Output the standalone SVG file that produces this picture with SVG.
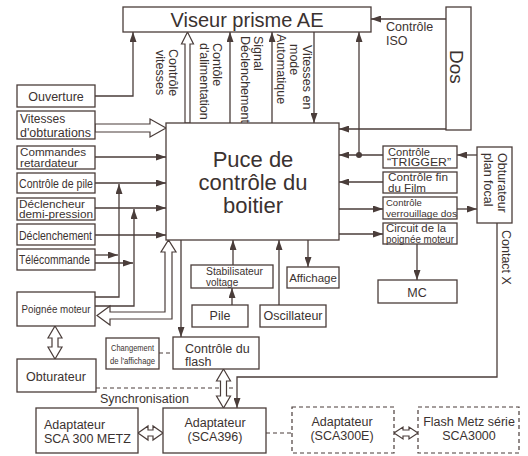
<svg xmlns="http://www.w3.org/2000/svg" width="528" height="456" viewBox="0 0 528 456">
<defs>
<marker id="a" markerWidth="10" markerHeight="7" refX="10" refY="3.5" orient="auto" markerUnits="userSpaceOnUse"><path d="M0,0 L10,3.5 L0,7 z" fill="#4a3d3a"/></marker>
<style>
.b{fill:#fff;stroke:#4a3d3a;stroke-width:1.3}
.d{fill:#fff;stroke:#4a3d3a;stroke-width:1.2;stroke-dasharray:4 3}
.l{fill:none;stroke:#4a3d3a;stroke-width:1.3}
.ar{fill:none;stroke:#4a3d3a;stroke-width:1.3;marker-end:url(#a)}
.dl{fill:none;stroke:#4a3d3a;stroke-width:1.2;stroke-dasharray:4 3}
.h{fill:#fff;stroke:#4a3d3a;stroke-width:1.2}
text{font-family:"Liberation Sans",Arial,sans-serif;fill:#3b3230;font-size:12.5px}
.m{text-anchor:middle}
.s{font-size:10px}
.xs{font-size:9.5px}
</style>
</defs>
<rect width="528" height="456" fill="#fff"/>

<g id="connectors">
<polyline class="ar" points="95,96 133,96 133,32"/>
<line class="ar" x1="95" y1="157" x2="166" y2="157"/>
<line class="ar" x1="95" y1="183" x2="166" y2="183"/>
<line class="ar" x1="95" y1="208" x2="166" y2="208"/>
<line class="ar" x1="95" y1="235" x2="166" y2="235"/>
<line class="ar" x1="95" y1="255" x2="118" y2="255"/>
<line class="ar" x1="95" y1="263" x2="133" y2="263"/>
<polyline class="ar" points="95,297 119,297 119,184"/>
<polyline class="ar" points="95,306 134,306 134,209"/>
<line class="ar" x1="181" y1="240" x2="181" y2="337"/>
<line class="ar" x1="232" y1="305" x2="232" y2="288"/>
<line class="ar" x1="233" y1="265" x2="233" y2="240"/>
<line class="ar" x1="279" y1="305" x2="279" y2="240"/>
<line class="ar" x1="308" y1="240" x2="308" y2="267"/>
<line class="ar" x1="230" y1="123" x2="230" y2="32"/>
<line class="ar" x1="272" y1="123" x2="272" y2="32"/>
<line class="ar" x1="314" y1="32" x2="314" y2="123"/>
<line class="ar" x1="359" y1="155" x2="359" y2="32"/>
<line class="ar" x1="446" y1="19" x2="371" y2="19"/>
<line class="ar" x1="446" y1="129" x2="339" y2="129"/>
<line class="ar" x1="383" y1="155" x2="339" y2="155"/>
<circle cx="359" cy="155" r="3" fill="#4a3d3a"/>
<line class="ar" x1="477" y1="155" x2="457" y2="155"/>
<line class="ar" x1="383" y1="182" x2="339" y2="182"/>
<line class="ar" x1="339" y1="209" x2="383" y2="209"/>
<line class="ar" x1="457" y1="209" x2="477" y2="209"/>
<line class="ar" x1="339" y1="234" x2="383" y2="234"/>
<line class="ar" x1="417" y1="244" x2="417" y2="280"/>
<polyline class="ar" points="497,223 497,377 237,377 237,408"/>
<line class="dl" x1="159" y1="353" x2="173" y2="353"/>
<line class="dl" x1="96" y1="388" x2="234" y2="388"/>
<line class="dl" x1="266" y1="433" x2="292" y2="433"/>
<polygon class="h" points="185,123 185,44 181.5,44 187.5,32 193.5,44 190,44 190,123"/>
<polygon class="h" points="95,124 150,124 150,119 166,128 150,137 150,132 95,132"/>
<polygon class="h" points="165,252 161,252 168.5,240 176,252 172,252 172,319 110,319 110,325 97,315.5 110,306 110,312 165,312"/>
<polygon class="h" points="55,326 62,338 58,338 58,347 62,347 55,359 48,347 52,347 52,338 48,338"/>
<polygon class="h" points="223.5,369 230.5,381 226.5,381 226.5,396 230.5,396 223.5,408 216.5,396 220.5,396 220.5,381 216.5,381"/>
<polygon class="h" points="138,433 148,426 148,430 153,430 153,426 163,433 153,440 153,436 148,436 148,440"/>
<polygon class="h" points="394,433 403,427 403,430 409,430 409,427 418,433 409,439 409,436 403,436 403,439"/>
<text x="386" y="31">Contrôle</text>
<text x="386" y="45">ISO</text>
<text transform="translate(169,49) rotate(90)">Contrôle</text>
<text transform="translate(156,50) rotate(90)">vitesses</text>
<text transform="translate(213,43) rotate(90)">Contôle</text>
<text transform="translate(200,43) rotate(90)">d'alimentation</text>
<text transform="translate(254,36) rotate(90)">Signal</text>
<text transform="translate(241,36) rotate(90)">Déclenchement</text>
<text transform="translate(303,45) rotate(90)">Vitesses en</text>
<text transform="translate(290,44) rotate(90)">mode</text>
<text transform="translate(277,34) rotate(90)">Automatique</text>
<text transform="translate(502,230) rotate(90)">Contact X</text>
<text x="100" y="403">Synchronisation</text>
</g>

<g id="viseur"><rect class="b" x="123" y="7" width="248" height="25"/><text class="m" x="247" y="27" style="font-size:20px">Viseur prisme AE</text></g>
<g id="dos"><rect class="b" x="446" y="7" width="25" height="123"/><text transform="translate(450,50) rotate(90)" style="font-size:19px">Dos</text></g>
<g id="puce"><rect class="b" x="166" y="123" width="173" height="117"/>
<text class="m" x="253" y="167" style="font-size:22px">Puce de</text>
<text class="m" x="253" y="190" style="font-size:22px">contrôle du</text>
<text class="m" x="253" y="213" style="font-size:22px">boitier</text></g>
<g id="ouverture"><rect class="b" x="17" y="85" width="78" height="22"/><text class="m" x="56" y="101">Ouverture</text></g>
<g id="vitesses"><rect class="b" x="17" y="111" width="78" height="28"/><text x="20" y="123" style="font-size:12px">Vitesses</text><text x="20" y="136.5" style="font-size:12px" textLength="71" lengthAdjust="spacingAndGlyphs">d'obturations</text></g>
<g id="commandes"><rect class="b" x="17" y="146" width="78" height="23"/><text x="20" y="155.5" class="s" textLength="66" lengthAdjust="spacingAndGlyphs">Commandes</text><text x="20" y="166.5" class="s" textLength="58" lengthAdjust="spacingAndGlyphs">retardateur</text></g>
<g id="pile-ctrl"><rect class="b" x="17" y="173" width="78" height="20"/><text x="19" y="188" textLength="74" lengthAdjust="spacingAndGlyphs">Contrôle de pile</text></g>
<g id="declencheur"><rect class="b" x="17" y="198" width="78" height="22"/><text x="19" y="207.5" class="s" textLength="66" lengthAdjust="spacingAndGlyphs">Déclencheur</text><text x="19" y="218" class="s" textLength="74" lengthAdjust="spacingAndGlyphs">demi-pression</text></g>
<g id="declenchement"><rect class="b" x="17" y="224" width="78" height="21"/><text x="19" y="240" textLength="73" lengthAdjust="spacingAndGlyphs">Déclenchement</text></g>
<g id="telecommande"><rect class="b" x="17" y="249" width="78" height="21"/><text x="19" y="264" textLength="71" lengthAdjust="spacingAndGlyphs">Télécommande</text></g>
<g id="poignee"><rect class="b" x="17" y="292" width="78" height="34"/><text class="m" x="56" y="313" style="font-size:11px" textLength="69" lengthAdjust="spacingAndGlyphs">Poignée moteur</text></g>
<g id="obturateur"><rect class="b" x="17" y="359" width="79" height="33"/><text class="m" x="56" y="381">Obturateur</text></g>
<g id="changement"><rect class="b" x="106" y="338" width="53" height="31"/><text class="m xs" x="132.5" y="351" textLength="43" lengthAdjust="spacingAndGlyphs">Changement</text><text class="m xs" x="132.5" y="364" textLength="45" lengthAdjust="spacingAndGlyphs">de l'affichage</text></g>
<g id="flash-ctrl"><rect class="b" x="173" y="337" width="86" height="32"/><text x="185" y="353">Contrôle du</text><text x="185" y="366">flash</text></g>
<g id="stabilisateur"><rect class="b" x="191" y="265" width="82" height="23"/><text class="s" x="206" y="275" textLength="57" lengthAdjust="spacingAndGlyphs">Stabilisateur</text><text class="s" x="206" y="285.5">voltage</text></g>
<g id="affichage"><rect class="b" x="287" y="267" width="52" height="21"/><text class="m" x="313" y="282" style="font-size:11.5px">Affichage</text></g>
<g id="pile"><rect class="b" x="192" y="305" width="56" height="22"/><text class="m" x="220" y="320">Pile</text></g>
<g id="oscillateur"><rect class="b" x="260" y="305" width="66" height="22"/><text class="m" x="293" y="320">Oscillateur</text></g>
<g id="trigger"><rect class="b" x="383" y="146" width="74" height="22"/><text class="s" x="388" y="155.5" textLength="42" lengthAdjust="spacingAndGlyphs">Contrôle</text><text class="s" x="387" y="166" textLength="64" lengthAdjust="spacingAndGlyphs">“TRIGGER”</text></g>
<g id="fin-film"><rect class="b" x="383" y="172" width="74" height="21"/><text class="s" x="388" y="181" textLength="60" lengthAdjust="spacingAndGlyphs">Contrôle fin</text><text class="s" x="388" y="191.5" textLength="38" lengthAdjust="spacingAndGlyphs">du Film</text></g>
<g id="verrouillage"><rect class="b" x="383" y="197" width="74" height="22"/><text class="xs" x="386" y="206">Contrôle</text><text class="xs" x="386" y="217" textLength="71" lengthAdjust="spacingAndGlyphs">verrouillage dos</text></g>
<g id="circuit"><rect class="b" x="383" y="223" width="74" height="21"/><text class="s" x="386" y="232" textLength="60" lengthAdjust="spacingAndGlyphs">Circuit de la</text><text class="s" x="386" y="242.5" textLength="68" lengthAdjust="spacingAndGlyphs">poignée moteur</text></g>
<g id="mc"><rect class="b" x="378" y="280" width="79" height="23"/><text class="m" x="417" y="297">MC</text></g>
<g id="obturateur-focal"><rect class="b" x="477" y="147" width="35" height="76"/><text transform="translate(498,153) rotate(90)">Obturateur</text><text transform="translate(484,153) rotate(90)">plan focal</text></g>
<g id="sca300metz"><rect class="b" x="36" y="408" width="102" height="45"/><text x="44" y="429">Adaptateur</text><text x="44" y="443">SCA 300 METZ</text></g>
<g id="sca396"><rect class="b" x="163" y="408" width="103" height="45"/><text class="m" x="215" y="427">Adaptateur</text><text class="m" x="215" y="441">(SCA396)</text></g>
<g id="sca300e"><rect class="d" x="292" y="407" width="102" height="46"/><text class="m" x="342" y="426">Adaptateur</text><text class="m" x="342" y="440">(SCA300E)</text></g>
<g id="flash-metz"><rect class="d" x="418" y="407" width="101" height="46"/><text class="m" x="469" y="426">Flash Metz série</text><text class="m" x="469" y="440">SCA3000</text></g>
</svg>
